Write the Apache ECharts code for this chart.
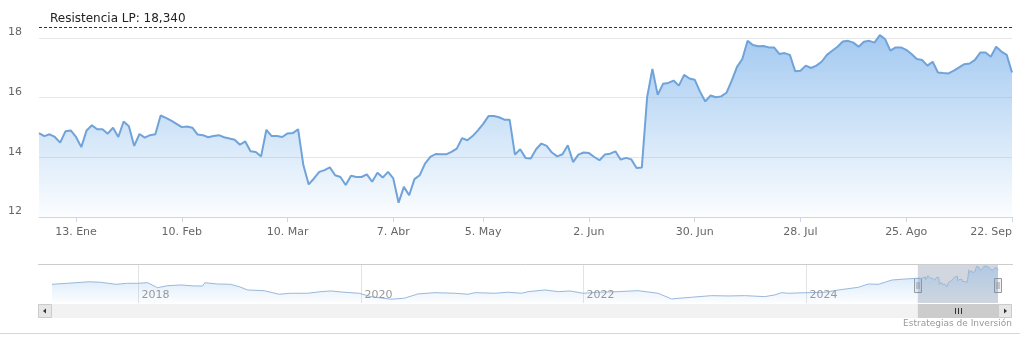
<!DOCTYPE html>
<html><head><meta charset="utf-8">
<script src="https://cdn.jsdelivr.net/npm/echarts@6/dist/echarts.min.js"></script>
<style>html,body{margin:0;padding:0;background:#fff}#c{width:1026px;height:348px}</style>
</head><body><div id="c"></div>
<script>
// ---- data ----
const firstDay = '2025-01-02';
const lastDay = '2025-09-22';
const marketHolidays = ['2025-04-18', '2025-04-21', '2025-05-01'];

const pricesJan = [14.81,14.71,14.77,14.68,14.49,14.87,14.9,14.68,14.34,14.9,15.07,14.94,14.94,14.79,14.99,14.68,15.2,15.04,14.38,14.78,14.66,14.74];
const pricesFeb = [14.77,15.4,15.32,15.23,15.12,15.01,15.03,14.99,14.76,14.74,14.67,14.71,14.74,14.67,14.63,14.59,14.42,14.53,14.2,14.18];
const pricesMar = [14.03,14.92,14.71,14.71,14.68,14.8,14.81,14.94,13.73,13.09,13.29,13.51,13.57,13.66,13.4,13.34,13.07,13.38,13.34,13.34,13.43];
const pricesApr = [13.18,13.48,13.32,13.51,13.29,12.48,13.01,12.73,13.27,13.4,13.79,14.01,14.11,14.1,14.1,14.18,14.29,14.64,14.57,14.71];
const pricesMay = [14.9,15.12,15.38,15.38,15.34,15.26,15.26,14.09,14.27,13.98,13.96,14.27,14.46,14.38,14.16,14.03,14.1,14.4,13.84,14.09,14.16];
const pricesJun = [14.14,14.01,13.9,14.09,14.12,14.2,13.92,13.98,13.93,13.64,13.66,16.01,16.96,16.09,16.46,16.49,16.57,16.4,16.76,16.64,16.6];
const pricesJul = [16.2,15.87,16.07,16.01,16.04,16.16,16.57,17.03,17.29,17.9,17.76,17.72,17.73,17.68,17.68,17.46,17.49,17.43,16.88,16.9,17.07,16.99,17.07];
const pricesAug = [17.2,17.43,17.57,17.7,17.88,17.9,17.84,17.7,17.87,17.9,17.84,18.09,17.96,17.57,17.68,17.68,17.6,17.46,17.29,17.26,17.07];
const pricesSep = [17.2,16.84,16.82,16.81,16.9,17.01,17.12,17.14,17.26,17.51,17.51,17.37,17.7,17.54,17.43,16.84];

const tickDates  = ['2025-01-13','2025-02-10','2025-03-10','2025-04-07','2025-05-05','2025-06-02','2025-06-30','2025-07-28','2025-08-25','2025-09-22'];
const tickLabels = ['13. Ene','10. Feb','10. Mar','7. Abr','5. May','2. Jun','30. Jun','28. Jul','25. Ago','22. Sep'];
const yMin = 12, yStep = 2, yTop = 19;   // ticks 12..18, headroom for the resistance line
const navYears = [2018, 2020, 2022, 2024];

const resistance = 18.34;
const resistanceLabel = 'Resistencia LP: 18,340';

const historyDates = ['2017-03-25','2017-05-14','2017-07-24','2017-09-01','2017-10-21','2017-11-28','2017-12-31',
 '2018-02-02','2018-03-06','2018-04-08','2018-05-22','2018-07-04','2018-08-01','2018-08-08','2018-09-19','2018-11-01','2018-11-29','2018-12-27',
 '2019-02-19','2019-04-09','2019-05-17','2019-07-11','2019-08-24','2019-09-26','2019-11-08','2019-12-28',
 '2020-02-04','2020-04-10','2020-05-24','2020-07-07','2020-09-01','2020-11-05','2020-12-19',
 '2021-01-10','2021-03-16','2021-04-29','2021-06-12','2021-07-04','2021-08-28','2021-10-11','2021-11-18','2021-12-31',
 '2022-02-18','2022-04-25','2022-06-29','2022-09-03','2022-10-17','2022-12-22',
 '2023-02-25','2023-04-21','2023-06-14','2023-08-19','2023-09-21','2023-10-13','2023-11-04',
 '2024-01-01','2024-03-04','2024-04-17','2024-06-21','2024-07-24','2024-08-26','2024-10-09','2024-11-22','2024-12-30'];
const historyValues = [13.14,13.4,13.8,13.67,13.14,13.4,13.4,
 13.56,12.25,12.77,12.96,12.7,12.7,13.56,13.22,13.14,12.51,11.64,
 11.46,10.51,10.77,10.77,11.2,11.38,11.04,10.77,
 9.88,9.2,9.46,10.59,10.93,10.77,10.51,
 10.93,10.77,11.04,10.77,11.2,11.64,11.2,11.38,10.77,
 11.04,11.2,11.46,10.77,9.27,9.72,
 10.14,10.06,10.14,9.88,10.33,10.93,10.77,
 10.93,11.04,11.64,12.35,13.22,13.14,14.27,14.54,14.72];
const navStart = '2017-03-25';
const navEnd = '2025-09-22';
const creditText = 'Estrategias de Inversión';

// ---- build ----
function tradingDays(a, b) {
  const out = [];
  const d = new Date(a + 'T00:00:00Z'), end = new Date(b + 'T00:00:00Z');
  while (d <= end) {
    const wd = d.getUTCDay(), s = d.toISOString().slice(0, 10);
    if (wd !== 0 && wd !== 6 && marketHolidays.indexOf(s) < 0) out.push(s);
    d.setUTCDate(d.getUTCDate() + 1);
  }
  return out;
}
const days = tradingDays(firstDay, lastDay);
const prices = [].concat(pricesJan, pricesFeb, pricesMar, pricesApr, pricesMay, pricesJun, pricesJul, pricesAug, pricesSep);
const navData = historyDates.map((d, i) => [d, historyValues[i]]).concat(days.map((d, i) => [d, prices[i]]));

const isTick = (idx, val) => tickDates.indexOf(val) >= 0;
const FONT = 'DejaVu Sans';

const chart = echarts.init(document.getElementById('c'), null, {renderer: 'canvas'});
chart.setOption({
  animation: false,
  backgroundColor: '#ffffff',
  grid: [
    {left: 39, right: 14, top: 8, height: 209},
    {left: 52, right: 28, top: 264, height: 39}
  ],
  xAxis: [
    {type: 'category', gridIndex: 0, data: days, boundaryGap: false,
     axisLine: {lineStyle: {color: '#ccd6eb'}},
     axisTick: {show: true, interval: isTick, length: 5, lineStyle: {color: '#ccd6eb'}},
     axisLabel: {interval: isTick, formatter: v => tickLabels[tickDates.indexOf(v)], color: '#666', fontSize: 11, fontFamily: FONT, margin: 10, alignMaxLabel: 'right'},
     splitLine: {show: false}},
    {type: 'time', gridIndex: 1, min: navStart, max: navEnd,
     axisLine: {show: false}, axisTick: {show: false}, splitLine: {show: false}, axisLabel: {show: false}}
  ],
  yAxis: [
    {type: 'value', gridIndex: 0, min: yMin, max: yTop, interval: yStep,
     axisLine: {show: false}, axisTick: {show: false},
     axisLabel: {color: '#666', fontSize: 11, fontFamily: FONT, verticalAlign: 'bottom', margin: 17, showMaxLabel: false},
     splitLine: {lineStyle: {color: '#e6e6e6'}, showMaxLine: false}},
    {type: 'value', gridIndex: 1, min: 8.2, max: 18.5, show: false, splitLine: {show: false}}
  ],
  series: [
    {type: 'line', xAxisIndex: 0, yAxisIndex: 0, data: prices, symbol: 'none',
     lineStyle: {color: '#6fa3d9', width: 2},
     areaStyle: {color: new echarts.graphic.LinearGradient(0, 0, 0, 1, [
       {offset: 0, color: 'rgba(124,178,234,1)'}, {offset: 1, color: 'rgba(124,181,236,0.04)'}])},
     markLine: {symbol: 'none', silent: true,
       lineStyle: {color: '#333', type: [3, 2], width: 1},
       label: {position: 'insideStartTop', formatter: resistanceLabel, color: '#222', fontSize: 12, fontFamily: FONT, padding: [0, 0, 0, 8], distance: 3},
       data: [{yAxis: resistance}]}},
    {type: 'line', xAxisIndex: 1, yAxisIndex: 1, data: navData, symbol: 'none',
     lineStyle: {color: '#9ab8dc', width: 1},
     areaStyle: {color: new echarts.graphic.LinearGradient(0, 0, 0, 1, [
       {offset: 0, color: 'rgba(124,181,236,0.55)'}, {offset: 1, color: 'rgba(124,181,236,0.03)'}])},
     markArea: {silent: true, itemStyle: {color: 'rgba(102,118,150,0.3)'},
       data: [[{xAxis: firstDay}, {xAxis: lastDay}]]}}
  ]
});

function toTs(d) { return (echarts.time && echarts.time.parse) ? +echarts.time.parse(d) : +new Date(d + 'T00:00:00'); }
const x0 = chart.convertToPixel({xAxisIndex: 1}, toTs(firstDay));
const x1 = chart.convertToPixel({xAxisIndex: 1}, toTs(lastDay));
const sbTop = 304, sbH = 14, navTop = 264, navBot = 303;
function handle(x) {
  const r = Math.round(x);
  return {type: 'group', z: 8, children: [
    {type: 'rect', shape: {x: r - 3.5, y: 278.5, width: 7, height: 14}, style: {fill: '#f2f2f2', stroke: '#999', lineWidth: 1}},
    {type: 'line', shape: {x1: r - 1, y1: 282, x2: r - 1, y2: 289}, style: {stroke: '#999', lineWidth: 1}},
    {type: 'line', shape: {x1: r + 1, y1: 282, x2: r + 1, y2: 289}, style: {stroke: '#999', lineWidth: 1}}
  ]};
}
const mid = Math.round((x0 + x1) / 2);
const yearEls = [];
navYears.forEach(y => {
  const xp = Math.round(chart.convertToPixel({xAxisIndex: 1}, toTs(y + '-01-01'))) + 0.5;
  yearEls.push({type: 'line', z: 1, shape: {x1: xp, y1: navTop, x2: xp, y2: navBot}, style: {stroke: '#e3e3e3', lineWidth: 1}});
  yearEls.push({type: 'text', z: 4, style: {text: String(y), x: xp + 3, y: navBot - 2, align: 'left', verticalAlign: 'bottom', fill: '#999', fontSize: 11, fontFamily: FONT}});
});
chart.setOption({
  graphic: yearEls.concat([
    {type: 'line', z: 5, shape: {x1: 38, y1: navTop + 0.5, x2: 1013, y2: navTop + 0.5}, style: {stroke: '#cccccc', lineWidth: 1}},
    {type: 'rect', z: 5, shape: {x: 38, y: sbTop, width: 974, height: sbH}, style: {fill: '#f2f2f2'}},
    {type: 'rect', z: 6, shape: {x: x0, y: sbTop, width: x1 - x0, height: sbH}, style: {fill: '#cccccc'}},
    {type: 'line', z: 7, shape: {x1: mid - 2.5, y1: sbTop + 4, x2: mid - 2.5, y2: sbTop + 10}, style: {stroke: '#333', lineWidth: 1}},
    {type: 'line', z: 7, shape: {x1: mid + 0.5, y1: sbTop + 4, x2: mid + 0.5, y2: sbTop + 10}, style: {stroke: '#333', lineWidth: 1}},
    {type: 'line', z: 7, shape: {x1: mid + 3.5, y1: sbTop + 4, x2: mid + 3.5, y2: sbTop + 10}, style: {stroke: '#333', lineWidth: 1}},
    {type: 'rect', z: 6, shape: {x: 38.5, y: sbTop + 0.5, width: 13, height: sbH - 1}, style: {fill: '#e6e6e6', stroke: '#cccccc', lineWidth: 1}},
    {type: 'polygon', z: 7, shape: {points: [[43, sbTop + 7], [46, sbTop + 4.5], [46, sbTop + 9.5]]}, style: {fill: '#333'}},
    {type: 'rect', z: 6, shape: {x: 998.5, y: sbTop + 0.5, width: 13, height: sbH - 1}, style: {fill: '#e6e6e6', stroke: '#cccccc', lineWidth: 1}},
    {type: 'polygon', z: 7, shape: {points: [[1007, sbTop + 7], [1004, sbTop + 4.5], [1004, sbTop + 9.5]]}, style: {fill: '#333'}},
    handle(x0),
    handle(x1),
    {type: 'text', z: 5, style: {text: creditText, x: 1012, y: 324, align: 'right', verticalAlign: 'middle', fill: '#999', fontSize: 9, fontFamily: FONT}},
    {type: 'line', z: 5, shape: {x1: 0, y1: 333.5, x2: 1020, y2: 333.5}, style: {stroke: '#d8d8d8', lineWidth: 1}}
  ])
});
</script>
</body></html>
